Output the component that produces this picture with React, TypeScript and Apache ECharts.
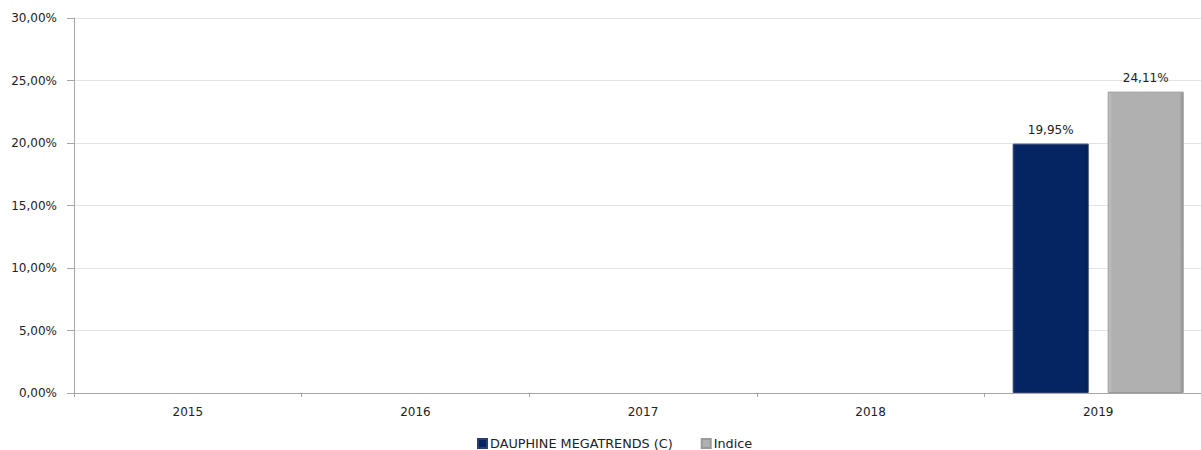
import React, { useEffect, useRef } from "react";
import * as echarts from "echarts";

const categories = ["2015", "2016", "2017", "2018", "2019"];
const fundValues: (number | null)[] = [null, null, null, null, 19.95];
const indexValues: (number | null)[] = [null, null, null, null, 24.11];
const fundName = "DAUPHINE MEGATRENDS (C)";
const indexName = "Indice";

const fmt = (v: number) => v.toFixed(2).replace(".", ",") + "%";

export default function App() {
  const ref = useRef<HTMLDivElement>(null);
  useEffect(() => {
    if (!ref.current) return;
    const chart = echarts.init(ref.current, null, { renderer: "svg" });
    const font = "DejaVu Sans, Verdana, sans-serif";
    chart.setOption({
      animation: false,
      textStyle: { fontFamily: font },
      grid: { left: 74, top: 18, width: 1138, height: 375, containLabel: false },
      legend: {
        left: 477,
        top: 437,
        padding: 0,
        itemWidth: 9,
        itemHeight: 9,
        itemGap: 28,
        icon: "rect",
        textStyle: { fontSize: 12.8, color: "#222", fontFamily: font, lineHeight: 13, padding: [0, 0, 0, -2] },
        data: [fundName, indexName],
      },
      xAxis: {
        type: "category",
        data: categories,
        axisLine: { lineStyle: { color: "#a6a6a6", width: 1 } },
        axisTick: { show: true, length: 4, lineStyle: { color: "#a6a6a6" } },
        axisLabel: { color: "#222", fontSize: 12, margin: 13, fontFamily: font },
        splitLine: { show: false },
      },
      yAxis: {
        type: "value",
        min: 0,
        max: 30,
        interval: 5,
        axisLine: { show: true, lineStyle: { color: "#a6a6a6", width: 1 } },
        axisTick: { show: true, length: 7, lineStyle: { color: "#a6a6a6" } },
        axisLabel: { color: "#222", fontSize: 12, margin: 17, fontFamily: font, formatter: (v: number) => fmt(v) },
        splitLine: { show: true, lineStyle: { color: "#e3e3e3", width: 1 } },
      },
      series: [
        {
          name: fundName,
          type: "bar",
          data: fundValues,
          barWidth: 76,
          barGap: "25%",
          itemStyle: {
            color: new echarts.graphic.LinearGradient(0, 0, 1, 0, [
              { offset: 0, color: "#0a2a6a" },
              { offset: 0.05, color: "#042462" },
              { offset: 0.95, color: "#042462" },
              { offset: 1, color: "#031a48" },
            ]),
            borderColor: "#2a3f70",
            borderWidth: 1,
          },
          label: {
            show: true,
            position: "top",
            distance: 8,
            color: "#222",
            fontSize: 12,
            fontFamily: font,
            formatter: (p: any) => fmt(p.value),
          },
        },
        {
          name: indexName,
          type: "bar",
          data: indexValues,
          barWidth: 76,
          itemStyle: {
            color: new echarts.graphic.LinearGradient(0, 0, 1, 0, [
              { offset: 0, color: "#c4c4c4" },
              { offset: 0.05, color: "#b0b0b0" },
              { offset: 0.95, color: "#b0b0b0" },
              { offset: 1, color: "#8e8e8e" },
            ]),
            borderColor: "#9a9a9a",
            borderWidth: 1,
          },
          label: {
            show: true,
            position: "top",
            distance: 8,
            color: "#222",
            fontSize: 12,
            fontFamily: font,
            formatter: (p: any) => fmt(p.value),
          },
        },
      ],
    });
    return () => chart.dispose();
  }, []);
  return (
    <div style={{ position: "fixed", left: 0, top: 0, width: 1201, height: 450, overflow: "hidden", background: "#fff" }}>
      <div ref={ref} style={{ width: 1215, height: 450 }} />
    </div>
  );
}
